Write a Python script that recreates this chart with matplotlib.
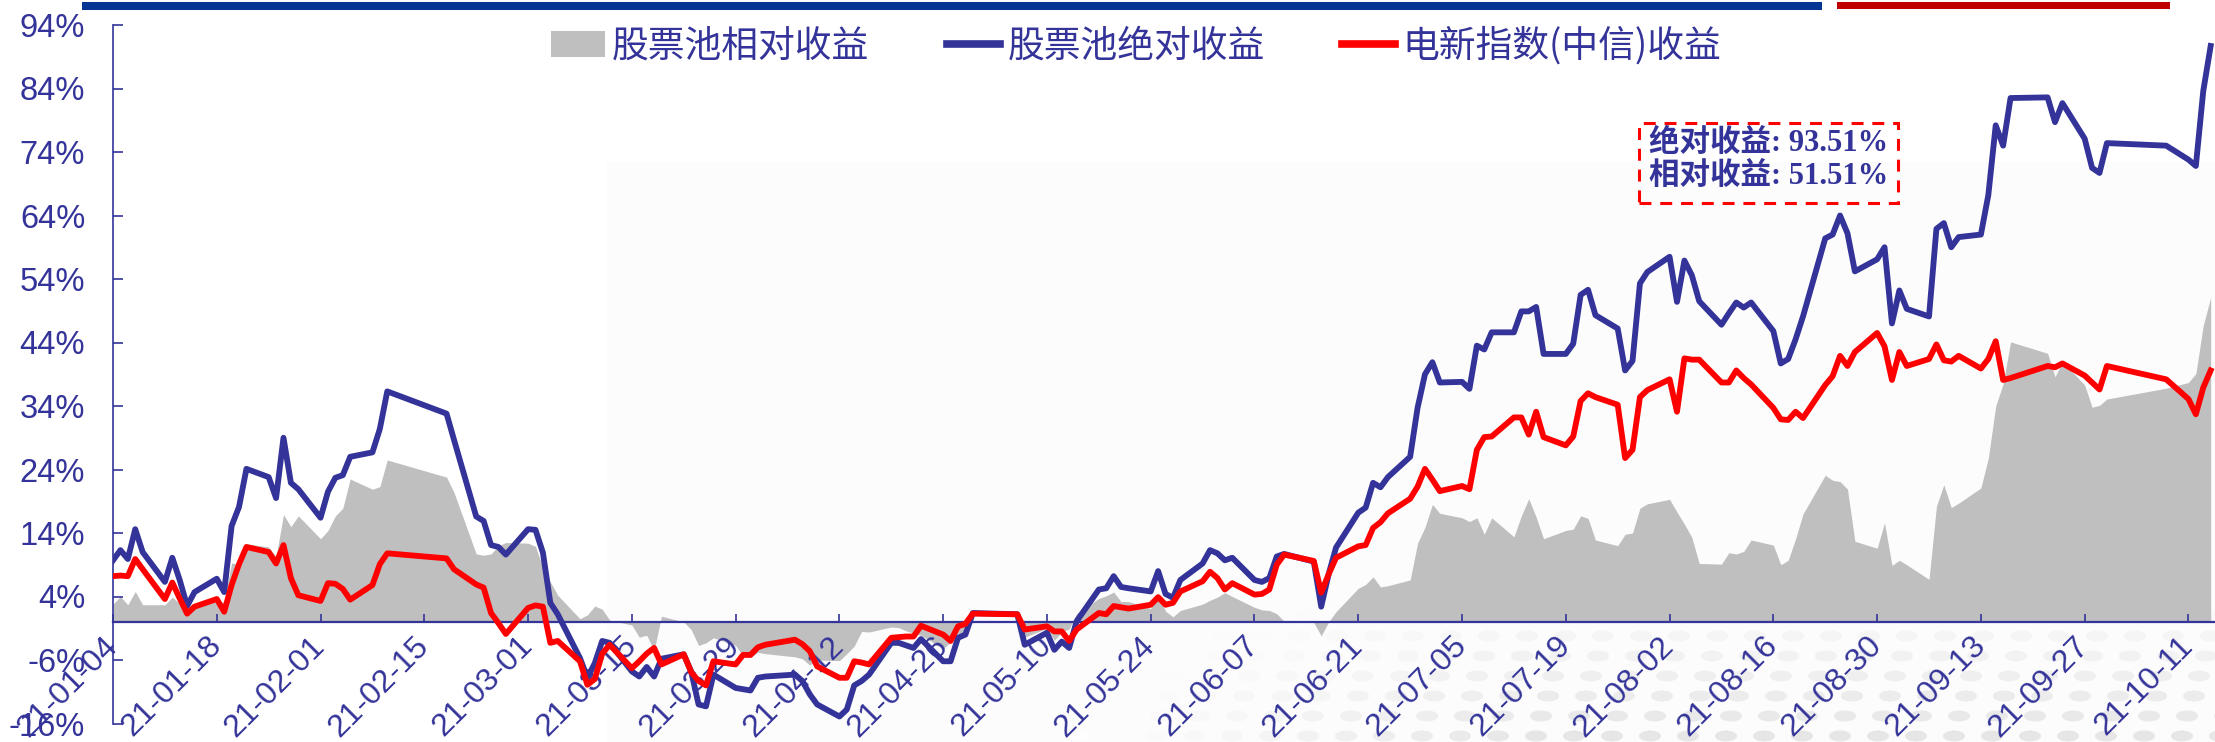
import matplotlib
matplotlib.use("Agg")
import matplotlib.pyplot as plt
from matplotlib.patches import Rectangle, Ellipse
from matplotlib.font_manager import FontProperties
import pandas as pd

# ---------------- data ----------------
trade_days = [
    "01-04", "01-05", "01-06", "01-07", "01-08",
    "01-11", "01-12", "01-13", "01-14", "01-15",
    "01-18", "01-19", "01-20", "01-21", "01-22",
    "01-25", "01-26", "01-27", "01-28", "01-29",
    "02-01", "02-02", "02-03", "02-04", "02-05",
    "02-08", "02-09", "02-10", "02-18", "02-19",
    "02-22", "02-23", "02-24", "02-25", "02-26",
    "03-01", "03-02", "03-03", "03-04", "03-05",
    "03-08", "03-09", "03-10", "03-11", "03-12",
    "03-15", "03-16", "03-17", "03-18", "03-19",
    "03-22", "03-23", "03-24", "03-25", "03-26",
    "03-29", "03-30", "03-31", "04-01", "04-02",
    "04-06", "04-07", "04-08", "04-09",
    "04-12", "04-13", "04-14", "04-15", "04-16",
    "04-19", "04-20", "04-21", "04-22", "04-23",
    "04-26", "04-27", "04-28", "04-29", "04-30",
    "05-06", "05-07",
    "05-10", "05-11", "05-12", "05-13", "05-14",
    "05-17", "05-18", "05-19", "05-20", "05-21",
    "05-24", "05-25", "05-26", "05-27", "05-28",
    "05-31", "06-01", "06-02", "06-03", "06-04",
    "06-07", "06-08", "06-09", "06-10", "06-11",
    "06-15", "06-16", "06-17", "06-18",
    "06-21", "06-22", "06-23", "06-24", "06-25",
    "06-28", "06-29", "06-30", "07-01", "07-02",
    "07-05", "07-06", "07-07", "07-08", "07-09",
    "07-12", "07-13", "07-14", "07-15", "07-16",
    "07-19", "07-20", "07-21", "07-22", "07-23",
    "07-26", "07-27", "07-28", "07-29", "07-30",
    "08-02", "08-03", "08-04", "08-05", "08-06",
    "08-09", "08-10", "08-11", "08-12", "08-13",
    "08-16", "08-17", "08-18", "08-19", "08-20",
    "08-23", "08-24", "08-25", "08-26", "08-27",
    "08-30", "08-31", "09-01", "09-02", "09-03",
    "09-06", "09-07", "09-08", "09-09", "09-10",
    "09-13", "09-14", "09-15", "09-16", "09-17",
    "09-22", "09-23", "09-24",
    "09-27", "09-28", "09-29", "09-30",
    "10-08",
    "10-11", "10-12", "10-13", "10-14",
]

# 股票池绝对收益 (%)
abs_ret = [
    9.7, 11.3, 9.9, 14.6, 11.0,
    6.3, 10.1, 6.6, 2.5, 4.7,
    6.8, 4.7, 15.1, 18.1, 24.1,
    22.8, 19.5, 29.0, 21.9, 20.9,
    16.4, 20.5, 22.7, 23.1, 26.0,
    26.7, 30.4, 36.3, 32.8, 28.7,
    16.6, 15.9, 12.1, 11.8, 10.6,
    14.6, 14.5, 10.9, 3.0, 1.2,
    -5.7, -8.8, -6.5, -3.0, -3.3,
    -7.8, -8.6, -7.1, -8.6, -5.8,
    -5.1, -7.8, -13.0, -13.3, -8.3,
    -10.4, -10.6, -10.8, -8.8, -8.6,
    -8.3, -9.3, -11.4, -13.0,
    -14.9, -13.8, -10.0, -9.3, -8.3,
    -3.3, -3.3, -3.7, -4.1, -2.7,
    -6.2, -6.2, -2.5, -2.0, 1.4,
    1.2, -3.6,
    -1.7, -4.4, -3.1, -4.1, 0.1,
    5.1, 5.3, 7.2, 5.5, 5.3,
    4.8, 8.0, 4.4, 3.8, 6.6,
    9.2, 11.3, 10.8, 9.7, 10.1,
    6.6, 6.3, 6.9, 10.3, 10.7,
    9.5, 2.4, 7.5, 11.7,
    17.2, 18.0, 21.9, 21.2, 22.8,
    26.0, 33.7, 39.0, 40.9, 37.7,
    37.8, 36.7, 43.5, 42.9, 45.6,
    45.6, 48.9, 48.9, 49.6, 42.2,
    42.2, 43.8, 51.5, 52.3, 48.3,
    46.2, 39.6, 41.1, 53.3, 55.1,
    57.5, 50.4, 56.9, 54.6, 50.5,
    46.8, 48.6, 50.3, 49.5, 50.3,
    45.8, 40.7, 41.4, 44.5, 48.1,
    60.4, 61.0, 64.0, 61.2, 55.2,
    57.1, 59.0, 47.0, 52.2, 49.3,
    48.1, 61.9, 62.8, 59.0, 60.6,
    61.0, 67.2, 78.2, 75.0, 82.5,
    82.6, 78.7, 81.7,
    76.1, 71.5, 70.7, 75.4,
    75.0,
    72.8, 71.8, 83.6, 90.7,
]

# 电新指数(中信)收益 (%)
idx_ret = [
    7.2, 7.3, 7.2, 9.9, 8.3,
    3.6, 6.2, 3.7, 1.3, 2.4,
    3.6, 1.6, 5.8, 9.1, 11.8,
    11.0, 9.2, 12.1, 6.9, 4.2,
    3.3, 6.1, 6.0, 5.2, 3.5,
    5.8, 9.1, 10.8, 10.0, 8.3,
    5.9, 5.4, 1.4, -0.2, -1.9,
    2.2, 2.6, 2.4, -3.3, -3.0,
    -6.2, -9.9, -9.0, -5.0, -3.6,
    -7.3, -6.2, -5.0, -4.1, -6.7,
    -5.1, -7.9, -9.3, -10.0, -6.2,
    -6.7, -5.2, -5.2, -4.0, -3.6,
    -2.8, -3.5, -4.6, -7.0,
    -8.8, -8.8, -6.2, -6.4, -6.7,
    -2.5, -2.4, -2.3, -2.3, -0.6,
    -2.0, -3.0, -0.7, -0.3, 1.3,
    1.2, -1.2,
    -0.7, -1.5, -1.5, -3.0, -1.2,
    1.4, 1.2, 2.5, 2.3, 2.1,
    2.7, 3.9, 2.7, 3.0, 4.8,
    6.4, 7.9, 6.9, 5.1, 6.1,
    4.3, 4.4, 5.1, 9.0, 10.6,
    9.6, 4.6, 7.5, 10.1,
    11.9, 12.1, 14.8, 15.7, 17.1,
    19.4, 21.3, 24.1, 22.4, 20.6,
    21.4, 20.9, 27.1, 29.1, 29.2,
    32.2, 32.2, 29.5, 33.1, 29.1,
    27.8, 29.2, 34.8, 36.0, 35.4,
    34.2, 25.8, 27.1, 35.4, 36.5,
    38.2, 33.1, 41.5, 41.3, 41.3,
    37.7, 37.7, 39.6, 38.4, 37.4,
    33.7, 31.9, 31.8, 33.1, 32.1,
    37.3, 38.7, 41.9, 40.3, 42.5,
    45.5, 43.4, 38.1, 42.5, 40.3,
    41.4, 43.7, 41.2, 41.0, 41.9,
    39.9, 41.4, 44.2, 38.1, 38.4,
    40.3, 40.1, 40.7,
    38.8, 37.7, 36.6, 40.3,
    38.2,
    35.1, 32.7, 36.9, 39.6,
]

# 股票池相对收益 (%)
rel_ret = [
    2.8, 4.0, 2.7, 4.8, 2.7,
    2.7, 3.9, 2.9, 1.2, 2.3,
    3.2, 3.1, 9.3, 9.0, 12.3,
    11.8, 10.3, 16.9, 15.0, 16.7,
    13.1, 14.4, 16.7, 17.9, 22.5,
    20.9, 21.3, 25.5, 22.8, 20.4,
    10.7, 10.5, 10.7, 12.0, 12.5,
    12.4, 11.9, 8.5, 6.3, 4.2,
    0.5, 1.1, 2.5, 2.0, 0.3,
    -0.5, -2.4, -2.1, -4.5, 0.9,
    0.0, -1.2, -3.7, -3.3, -2.5,
    -3.7, -5.4, -5.6, -4.8, -5.0,
    -5.5, -5.8, -6.8, -6.0,
    -6.1, -5.0, -3.8, -1.5, -1.6,
    -0.8, -0.9, -1.4, -1.8, -2.1,
    -4.2, -3.2, -1.8, -1.7, 0.1,
    0.0, -2.4,
    -1.0, -2.9, -1.6, -1.1, 1.3,
    3.7, 4.1, 4.7, 3.2, 3.2,
    2.1, 4.1, 1.7, 0.8, 1.8,
    2.8, 3.4, 3.9, 4.6, 4.0,
    2.3, 1.9, 1.8, 1.3, 0.1,
    -0.1, -2.2, 0.0, 1.6,
    5.3, 5.9, 7.1, 5.5, 5.7,
    6.6, 12.4, 14.9, 18.5, 17.1,
    16.4, 15.8, 16.4, 13.8, 16.4,
    13.4, 16.7, 19.4, 16.5, 13.1,
    14.4, 14.6, 16.7, 16.3, 12.9,
    12.0, 13.8, 14.0, 17.9, 18.6,
    19.3, 17.3, 15.4, 13.3, 9.2,
    9.1, 10.9, 10.7, 11.1, 12.9,
    12.1, 9.0, 9.7, 13.1, 17.0,
    23.1, 22.3, 22.1, 20.9, 12.7,
    11.6, 15.6, 8.9, 9.7, 9.0,
    6.7, 18.2, 21.6, 18.0, 18.7,
    21.1, 25.8, 34.0, 37.5, 44.1,
    42.3, 38.6, 41.0,
    37.3, 33.8, 34.1, 35.1,
    36.8,
    37.7, 39.1, 46.7, 51.1,
]

x_tick_labels = ["21-01-04", "21-01-18", "21-02-01", "21-02-15", "21-03-01",
                 "21-03-15", "21-03-29", "21-04-12", "21-04-26", "21-05-10",
                 "21-05-24", "21-06-07", "21-06-21", "21-07-05", "21-07-19",
                 "21-08-02", "21-08-16", "21-08-30", "21-09-13", "21-09-27",
                 "21-10-11"]
y_ticks = [-16, -6, 4, 14, 24, 34, 44, 54, 64, 74, 84, 94]

series_names = ["股票池相对收益", "股票池绝对收益", "电新指数(中信)收益"]
note_lines = ["绝对收益: 93.51%", "相对收益: 51.51%"]

# ---------------- drawing ----------------
W, H = 2215, 742
NAVY = "#333399"
fig = plt.figure(figsize=(W / 100, H / 100), dpi=100)
fig.patch.set_facecolor("white")

# faint background panel (behind the axes)
fig.patches.append(Rectangle((607 / W, 0), 1 - 607 / W, 1 - 162 / H,
                             transform=fig.transFigure, facecolor="#FCFCFC",
                             edgecolor="none", zorder=-5))
# faint dotted watermark in the lower right (decorative background)
for r in range(7):
    py = 742 - 6 - r * 20
    x0 = 1080 + r * 25
    shade = 0.90 + 0.012 * r
    px = x0 + (18 if r % 2 else 0)
    while px < W + 20:
        fade = min(1.0, (px - 1050) / 500.0)
        c = 1 - (1 - shade) * fade
        fig.patches.append(Ellipse((px / W, 1 - py / H), 22 / W, 11 / H,
                                   angle=0, transform=fig.transFigure,
                                   facecolor=(c, c, c), edgecolor="none",
                                   zorder=-4))
        px += 38

# top decorative bars
fig.patches.append(Rectangle((82 / W, 1 - 10 / H), (1822 - 82) / W, 8 / H,
                             transform=fig.transFigure, facecolor="#053593",
                             edgecolor="none", zorder=5))
fig.patches.append(Rectangle((1837 / W, 1 - 9 / H), (2170 - 1837) / W, 7 / H,
                             transform=fig.transFigure, facecolor="#C00000",
                             edgecolor="none", zorder=5))

ax = fig.add_axes([113 / W, 1 - 723.5 / H, 1 - 113 / W, (723.5 - 25) / H])
ax.set_zorder(1)
ax.patch.set_alpha(0)

x = pd.to_datetime(["2021-" + d for d in trade_days])
ax.fill_between(x, 0, rel_ret, color="#BFBFBF", lw=0, zorder=1,
                label=series_names[0])
ax.plot(x, abs_ret, color=NAVY, lw=4.2, zorder=3, label=series_names[1])
ax.plot(x, idx_ret, color="#FF0000", lw=4.2, zorder=4, label=series_names[2])

ax.set_ylim(-16, 94)
ax.set_yticks(y_ticks)
ax.set_yticklabels([f"{v}%" for v in y_ticks])
ax.set_xlim(pd.Timestamp("2021-01-04"), pd.Timestamp("2021-10-14 14:00"))
tick_pos = pd.to_datetime(x_tick_labels, format="%y-%m-%d")
ax.set_xticks(tick_pos)
ax.set_xticklabels(x_tick_labels)

for s in ("top", "right"):
    ax.spines[s].set_visible(False)
ax.spines["left"].set_color(NAVY)
ax.spines["left"].set_linewidth(1.2)
ax.spines["bottom"].set_position(("data", 0))
ax.spines["bottom"].set_color(NAVY)
ax.spines["bottom"].set_linewidth(1.6)
ax.spines["bottom"].set_zorder(2.5)

tick_font = ["Liberation Sans", "DejaVu Sans"]
ax.tick_params(axis="y", direction="in", length=7, width=1.2, color=NAVY,
               labelcolor=NAVY, labelsize=23.5, pad=20)
ax.tick_params(axis="x", direction="in", length=6, width=1.2, color=NAVY,
               labelcolor=NAVY, labelsize=23, pad=14, labelrotation=45)
for lab in ax.get_yticklabels():
    lab.set_family(tick_font)
for lab in ax.get_xticklabels():
    lab.set_family(tick_font)
    lab.set_rotation(45)
    lab.set_horizontalalignment("right")
    lab.set_verticalalignment("center")
    lab.set_rotation_mode("anchor")

leg = ax.legend(loc="center", bbox_to_anchor=(1136.5 / W, 1 - 46 / H),
                bbox_transform=fig.transFigure, ncol=3, frameon=False,
                prop=FontProperties(family=["Noto Sans CJK SC"], size=26.5),
                labelcolor=NAVY, handlelength=1.45, handleheight=0.7,
                handletextpad=0.2, columnspacing=2.1, borderpad=0,
                borderaxespad=0)
for h in leg.legend_handles[1:]:
    h.set_linewidth(5.5)

# annotation box
fig.patches.append(Rectangle((1639 / W, 1 - 203 / H), (1898 - 1639) / W, 80 / H,
                             transform=fig.transFigure, facecolor="none",
                             edgecolor="#FF0000", lw=2.2,
                             linestyle=(0, (3.9, 2.9)), zorder=6))
note_font = ["Liberation Serif", "Noto Sans CJK SC"]
fig.text(1649 / W, 1 - 143 / H, note_lines[0], color=NAVY, fontsize=22,
         fontweight="bold", family=note_font, va="center", ha="left", zorder=7)
fig.text(1649 / W, 1 - 177 / H, note_lines[1], color=NAVY, fontsize=22,
         fontweight="bold", family=note_font, va="center", ha="left", zorder=7)

fig.savefig("out.png", dpi=100)
